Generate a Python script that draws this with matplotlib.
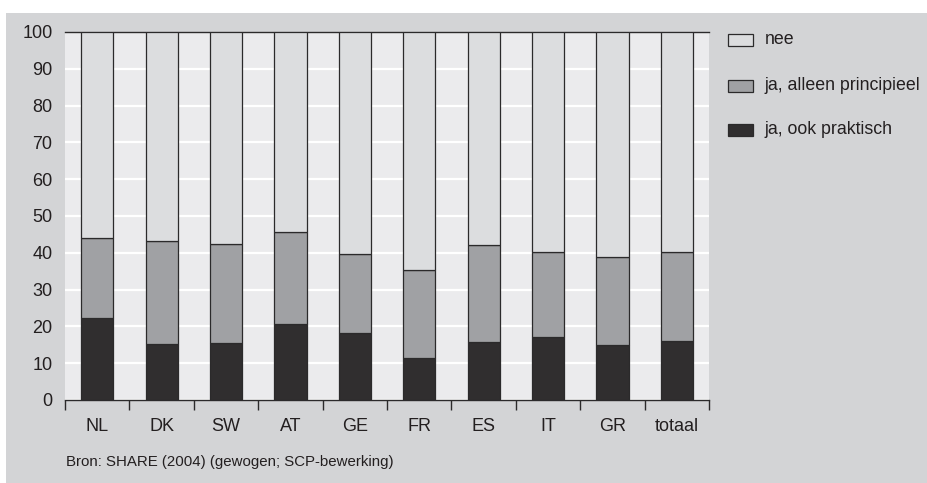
import matplotlib
matplotlib.use("Agg")
import matplotlib.pyplot as plt
from matplotlib.patches import Rectangle
from matplotlib import font_manager
import numpy as np

# Data
landen = ["NL", "DK", "SW", "AT", "GE", "FR", "ES", "IT", "GR", "totaal"]
ja_praktisch = [22.4, 15.1, 15.4, 20.7, 18.1, 11.5, 15.8, 17.1, 14.9, 16.1]
ja_principieel = [21.5, 28.1, 27.0, 25.0, 21.5, 23.7, 26.4, 23.2, 23.9, 24.2]
nee = [100 - a - b for a, b in zip(ja_praktisch, ja_principieel)]
reeks_namen = ["nee", "ja, alleen principieel", "ja, ook praktisch"]
bron = "Bron: SHARE (2004) (gewogen; SCP-bewerking)"

available = {f.name for f in font_manager.fontManager.ttflist}
family = "Liberation Sans Narrow" if "Liberation Sans Narrow" in available else "Liberation Sans"
plt.rcParams["font.family"] = [family, "DejaVu Sans"]

c_panel = "#d3d4d6"
c_plot = "#ebebed"
c_nee = "#dcdddf"
c_princ = "#a0a1a4"
c_prak = "#302e2f"
c_edge = "#2b2a2b"
c_text = "#231f20"

W, H = 927, 483
fig = plt.figure(figsize=(W / 100, H / 100), dpi=100)
fig.patch.set_facecolor("white")

# grey panel behind the figure content
fig.patches.append(Rectangle((6 / W, 0), 1 - 6 / W, (H - 13) / H,
                             transform=fig.transFigure, facecolor=c_panel,
                             edgecolor="none", zorder=0))

ax = fig.add_axes([65 / W, (H - 400) / H, 644 / W, 368 / H])
ax.set_facecolor(c_plot)
ax.set_zorder(1)

x = np.arange(len(landen))
bw = 0.5
ax.bar(x, ja_praktisch, bw, color=c_prak, edgecolor=c_edge, linewidth=0.9, zorder=3)
ax.bar(x, ja_principieel, bw, bottom=ja_praktisch, color=c_princ,
       edgecolor=c_edge, linewidth=0.9, zorder=3)
bottom2 = [a + b for a, b in zip(ja_praktisch, ja_principieel)]
ax.bar(x, nee, bw, bottom=bottom2, color=c_nee, edgecolor=c_edge,
       linewidth=0.9, zorder=3)

ax.set_xlim(-0.5, len(landen) - 0.5)
ax.set_ylim(0, 100)

ax.set_yticks(np.arange(0, 101, 10))
ax.yaxis.grid(True, color="white", linewidth=1.6, zorder=1)
ax.set_axisbelow(True)
ax.tick_params(axis="y", length=0, pad=9, labelsize=13, labelcolor=c_text)

ax.set_xticks(x)
ax.set_xticklabels(landen)
ax.set_xticks(np.arange(-0.5, len(landen), 1), minor=True)
ax.tick_params(axis="x", which="major", length=0, pad=13, labelsize=13,
               labelcolor=c_text)
ax.tick_params(axis="x", which="minor", length=7, width=1.0, color=c_edge,
               direction="out")

for s in ["left", "right"]:
    ax.spines[s].set_visible(False)
ax.spines["bottom"].set_color(c_edge)
ax.spines["bottom"].set_linewidth(1.0)
ax.spines["top"].set_color(c_edge)
ax.spines["top"].set_linewidth(1.0)

# legend drawn as boxes and labels in figure pixels
leg_colors = [c_nee, c_princ, c_prak]
leg_y = [40, 86, 130]
for name, col, yy in zip(reeks_namen, leg_colors, leg_y):
    fig.patches.append(Rectangle((728 / W, (H - yy - 6) / H), 25 / W, 12 / H,
                                 transform=fig.transFigure, facecolor=col,
                                 edgecolor=c_edge, linewidth=0.9, zorder=2))
    fig.text(765 / W, (H - yy) / H, name, fontsize=12.8, color=c_text,
             va="center", ha="left")

fig.text(66 / W, (H - 462) / H, bron, fontsize=10.8, color=c_text,
         va="center", ha="left")

fig.savefig("out.png", dpi=100, facecolor=fig.get_facecolor())
